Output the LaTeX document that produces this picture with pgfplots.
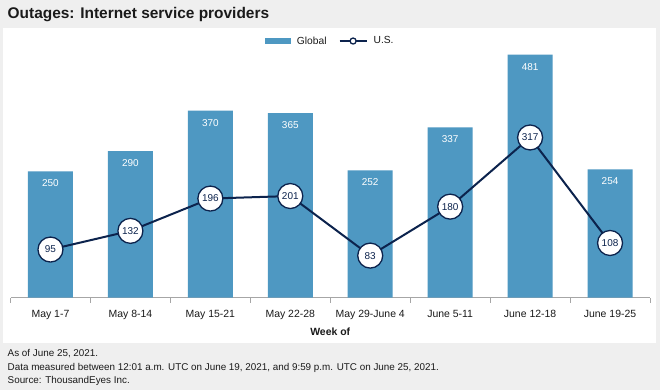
\documentclass[border=0pt]{standalone}
\usepackage{fontspec}
\setmainfont{Liberation Sans}
\usepackage{pgfplots}
\pgfplotsset{compat=1.18}
\definecolor{barblue}{HTML}{4E98C2}
\definecolor{navy}{HTML}{0C234D}
\definecolor{bggray}{HTML}{EFEFEF}
\definecolor{axgray}{HTML}{A6A6A6}
\definecolor{txt}{HTML}{1A1A1A}
\begin{document}
\begin{tikzpicture}[x=1bp,y=1bp]
\fill[bggray] (0,0) rectangle (660,390);
\fill[white] (3,47) rectangle (656,362);
\node[anchor=west, font=\fontsize{15.5}{18}\selectfont\bfseries, text=txt, inner sep=0pt] at (7.5,375) {Outages: Internet service providers};
\begin{axis}[
  at={(10.5bp,92.5bp)}, anchor=south west, scale only axis,
  width=639.5bp, height=262.5bp,
  xmin=-0.5, xmax=7.5, ymin=0, ymax=520,
  axis x line*=bottom, axis y line=none,
  x axis line style={axgray, line width=0.8bp, -},
  xtick={0,...,7},
  xticklabels={May 1-7, May 8-14, May 15-21, May 22-28, May 29-June 4, June 5-11, June 12-18, June 19-25},
  major tick length=0pt,
  minor xtick={-0.5,0.5,1.5,2.5,3.5,4.5,5.5,6.5,7.5},
  minor tick length=5bp, tick align=outside,
  minor tick style={axgray, line width=0.8bp},
  xticklabel style={font=\fontsize{10.5}{12}\selectfont, text=txt, yshift=-9bp},
  xlabel={Week of},
  xlabel style={font=\fontsize{10.5}{12}\selectfont\bfseries, text=txt, yshift=-2bp},
  /pgf/number format/assume math mode=true,
  legend style={at={(0.5,0.977)}, anchor=center, draw=none, fill=none,
    font=\fontsize{10.3}{12}\selectfont, text=txt,
    /tikz/every odd column/.append style={column sep=4bp},
    /tikz/every even column/.append style={column sep=10bp}},
  legend columns=2,
  clip=false,
]
\addplot[ybar, bar width=45bp, fill=barblue, draw=none,
  nodes near coords,
  every node near coord/.append style={anchor=center, yshift=-12bp, text=white, font=\fontsize{10}{12}\selectfont},
  legend image code/.code={\fill[barblue] (0bp,-2.7bp) rectangle (26bp,2.7bp);}]
  coordinates {(0,250) (1,290) (2,370) (3,365) (4,252) (5,337) (6,481) (7,254)};
\addlegendentry{Global}
\addplot[navy, line width=2bp, mark=*, mark size=12.5bp,
  mark options={fill=white, draw=navy, line width=1.3bp},
  nodes near coords,
  every node near coord/.append style={anchor=center, text=navy, font=\fontsize{10}{12}\selectfont},
  legend image code/.code={\draw[navy, line width=2bp] (0bp,0bp)--(27bp,0bp);
     \draw[navy, fill=white, line width=1.3bp] (13.5bp,0bp) circle (3bp);}]
  coordinates {(0,95) (1,132) (2,196) (3,201) (4,83) (5,180) (6,317) (7,108)};
\addlegendentry{U.S.}
\end{axis}
\begin{scope}[every node/.style={anchor=west, inner sep=0pt, font=\fontsize{9.9}{11}\selectfont, text=txt}]
\node at (7.5,36) {As of June 25, 2021.};
\node at (7.5,22) {Data measured between 12:01 a.m. UTC on June 19, 2021, and 9:59 p.m. UTC on June 25, 2021.};
\node at (7.5,9) {Source: ThousandEyes Inc.};
\end{scope}
\useasboundingbox (0,0) rectangle (660,390);
\end{tikzpicture}
\end{document}
